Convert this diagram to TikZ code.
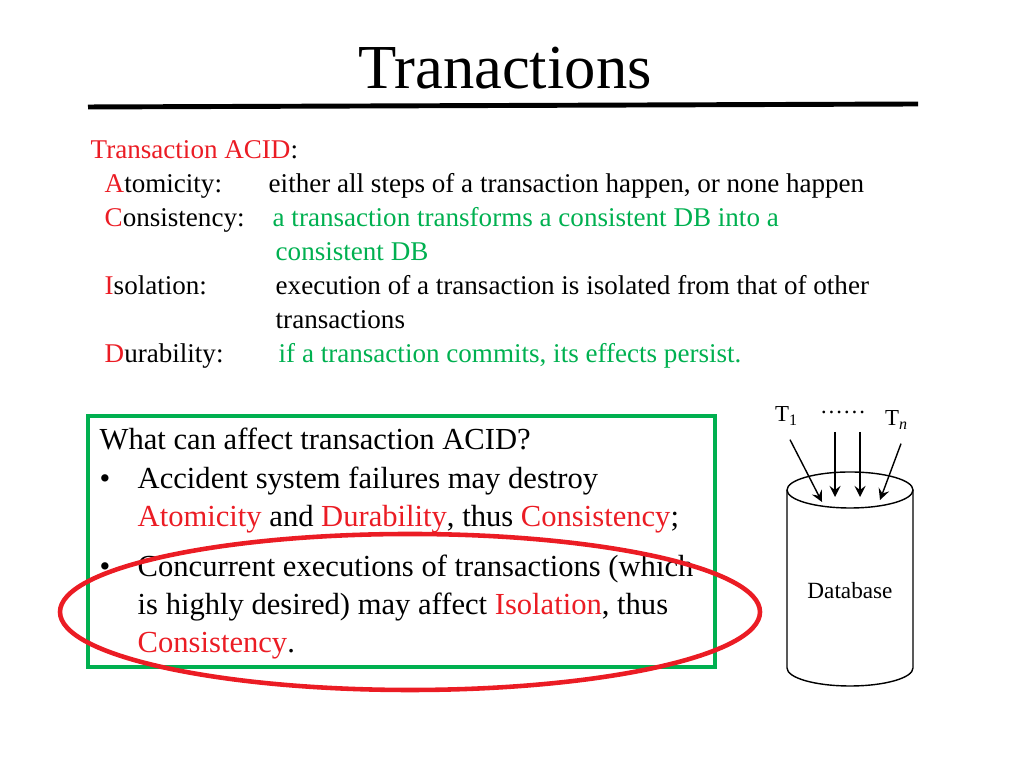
\documentclass[tikz,border=0pt]{standalone}
\usepackage{fontspec}
\setmainfont{Liberation Serif}
\usetikzlibrary{positioning,shapes.geometric}
\definecolor{accred}{RGB}{235,28,36}
\definecolor{accgreen}{RGB}{0,176,80}
\tikzset{
  acid/.style={anchor=base west,inner sep=0pt,font=\fontsize{7.7}{8}\selectfont},
  boxtext/.style={anchor=base west,inner sep=0pt,font=\fontsize{8.7}{9}\selectfont},
  feed/.style={-stealth,thin}
}
\begin{document}
\begin{tikzpicture}[x=0.01cm,y=-0.01cm]
  \useasboundingbox (0,0) rectangle (1024,768);
  % title
  \node[font=\fontsize{17.8}{20}\selectfont] (title) at (505,68) {Tranactions};
  \draw[line width=1.4pt] (88,107) -- (918,104);
  % ACID list
  \node[acid,text=accred] (head) at (90,159) {Transaction ACID\textcolor{black}{:}};
  \node[acid] (a) at (104,193) {\textcolor{accred}{A}tomicity:};
  \node[acid] (ad) at (268,193) {either all steps of a transaction happen, or none happen};
  \node[acid] (c) at (104,227) {\textcolor{accred}{C}onsistency:};
  \node[acid,text=accgreen] (cd) at (272,227) {a transaction transforms a consistent DB into a};
  \node[acid,text=accgreen] (cd2) at (275,261) {consistent DB};
  \node[acid] (i) at (104,295) {\textcolor{accred}{I}solation:};
  \node[acid] (id) at (275,295) {execution of a transaction is isolated from that of other};
  \node[acid] (id2) at (275,329) {transactions};
  \node[acid] (d) at (104,363) {\textcolor{accred}{D}urability:};
  \node[acid,text=accgreen] (dd) at (278,363) {if a transaction commits, its effects persist.};
  % box
  \draw[accgreen,line width=1pt] (88,416) rectangle (715,667);
  \node[boxtext] (q) at (99,450) {What can affect transaction ACID?};
  \node[boxtext] (b1) at (99,489) {\textbullet};
  \node[boxtext] (l1) at (137,489) {Accident system failures may destroy};
  \node[boxtext] (l2) at (137,527) {\textcolor{accred}{Atomicity} and \textcolor{accred}{Durability}, thus \textcolor{accred}{Consistency};};
  \node[boxtext] (b2) at (99,577) {\textbullet};
  \node[boxtext] (l3) at (137,577) {Concurrent executions of transactions (which};
  \node[boxtext] (l4) at (137,615) {is highly desired) may affect \textcolor{accred}{Isolation}, thus};
  \node[boxtext] (l5) at (137,653) {\textcolor{accred}{Consistency}.};
  \draw[accred,line width=1.3pt] (410,612) ellipse (350 and 78);
  % database
  \draw[thin] (787,490) -- (787,668) arc (180:0:63 and 18) -- (913,490);
  \draw[thin] (850,490) ellipse (63 and 18);
  \node[font=\fontsize{6.6}{7}\selectfont] (db) at (850,591) {Database};
  \node[font=\fontsize{6.5}{7}\selectfont] (t1) at (787,416) {T\textsubscript{1}};
  \node[font=\fontsize{6.5}{7}\selectfont] (dots) at (843,412) {\dots\dots};
  \node[font=\fontsize{6.5}{7}\selectfont] (tn) at (897,420) {T\textsubscript{\itshape n}};
  \coordinate (e1) at (822,502);
  \coordinate (e2) at (835,497);
  \coordinate (e3) at (860,497);
  \coordinate (e4) at (880,500);
  \coordinate (s2) at (835,432);
  \coordinate (s3) at (860,432);
  \draw[feed] (t1.south) ++(3,2) -- (e1);
  \draw[feed] (s2) -- (e2);
  \draw[feed] (s3) -- (e3);
  \draw[feed] (tn.south) ++(4,2) -- (e4);
\end{tikzpicture}
\end{document}
